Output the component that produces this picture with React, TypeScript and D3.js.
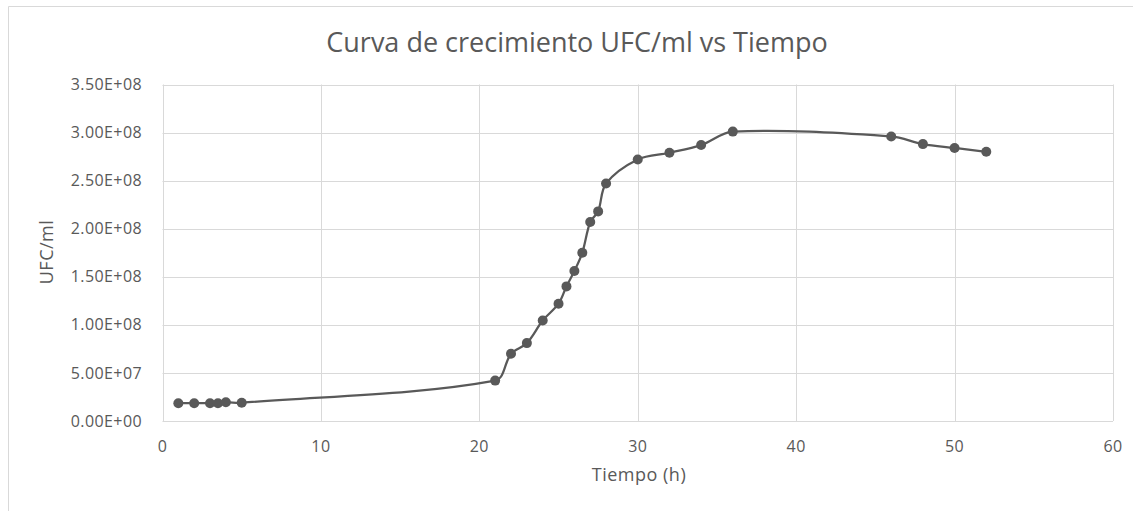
import React from "react";
import * as d3 from "d3";

const tiempo = [1, 2, 3, 3.5, 4, 5, 21, 22, 23, 24, 25, 25.5, 26, 26.5, 27, 27.5, 28, 30, 32, 34, 36, 46, 48, 50, 52];
const ufc = [1.85e7, 1.85e7, 1.85e7, 1.85e7, 1.95e7, 1.9e7, 4.2e7, 7.0e7, 8.1e7, 1.045e8, 1.22e8, 1.4e8, 1.56e8, 1.75e8, 2.07e8, 2.18e8, 2.47e8, 2.72e8, 2.79e8, 2.87e8, 3.01e8, 2.96e8, 2.88e8, 2.84e8, 2.8e8];
const xTicks = [0, 10, 20, 30, 40, 50, 60];
const yTicks = [0, 5e7, 1e8, 1.5e8, 2e8, 2.5e8, 3e8, 3.5e8];

const W = 1143;
const H = 511;
const FONT = "'Open Sans', sans-serif";
const TXT = "#595959";
const GRID = "#d9d9d9";

// Excel-like smoothed line: chord-length weighted Bezier tangents
function smoothPath(p: [number, number][]): string {
  const path = d3.path();
  const n = p.length;
  if (!n) return "";
  path.moveTo(p[0][0], p[0][1]);
  const dist = (a: [number, number], b: [number, number]) => Math.hypot(b[0] - a[0], b[1] - a[1]);
  for (let i = 0; i < n - 1; i++) {
    const p0 = p[Math.max(0, i - 1)];
    const p1 = p[i];
    const p2 = p[i + 1];
    const p3 = p[Math.min(n - 1, i + 2)];
    const d01 = dist(p0, p1);
    const d12 = dist(p1, p2);
    const d23 = dist(p2, p3);
    const f1 = d01 + d12 > 0 ? d12 / (d01 + d12) / 3 : 0;
    const f2 = d12 + d23 > 0 ? d12 / (d12 + d23) / 3 : 0;
    const c1x = p1[0] + (p2[0] - p0[0]) * f1;
    const c1y = p1[1] + (p2[1] - p0[1]) * f1;
    const c2x = p2[0] - (p3[0] - p1[0]) * f2;
    const c2y = p2[1] - (p3[1] - p1[1]) * f2;
    path.bezierCurveTo(c1x, c1y, c2x, c2y, p2[0], p2[1]);
  }
  return path.toString();
}

export default function App() {
  const x = d3.scaleLinear().domain([0, 60]).range([162.5, 1113]);
  const y = d3.scaleLinear().domain([0, 3.5e8]).range([421, 84.5]);
  const pts: [number, number][] = tiempo.map((t, i) => [t, ufc[i]]);
  const px: [number, number][] = pts.map((d) => [x(d[0]), y(d[1])]);
  const fmt = (v: number) => {
    const s = v.toExponential(2).toUpperCase();
    const [m, e] = s.split("E");
    const sign = e.startsWith("-") ? "-" : "+";
    const n = Math.abs(parseInt(e, 10));
    return `${m}E${sign}${n < 10 ? "0" + n : n}`;
  };
  return (
    <svg width={W} height={H} style={{ position: "absolute", left: 0, top: 0, background: "#fff" }}>
      <rect x={0} y={0} width={W} height={H} fill="#fff" />
      <line x1={8.5} x2={1133} y1={6.5} y2={6.5} stroke={GRID} strokeWidth={1} />
      <line x1={8.5} x2={8.5} y1={6.5} y2={H} stroke={GRID} strokeWidth={1} />
      <text x={577} y={52} textAnchor="middle" fontFamily={FONT} fontSize={27} fill={TXT}>
        Curva de crecimiento UFC/ml vs Tiempo
      </text>
      {yTicks.map((v) => (
        <g key={"y" + v}>
          <line x1={x(0)} x2={x(60)} y1={Math.round(y(v)) + 0.5} y2={Math.round(y(v)) + 0.5} stroke={GRID} strokeWidth={1} />
          <text x={142} y={y(v)} dy="0.35em" textAnchor="end" fontFamily={FONT} fontSize={16} letterSpacing={0.4} fill={TXT}>
            {fmt(v)}
          </text>
        </g>
      ))}
      {xTicks.map((v) => (
        <g key={"x" + v}>
          <line x1={Math.round(x(v)) + 0.5} x2={Math.round(x(v)) + 0.5} y1={y(3.5e8)} y2={y(0)} stroke={GRID} strokeWidth={1} />
          <text x={x(v)} y={446} dy="0.35em" textAnchor="middle" fontFamily={FONT} fontSize={16} letterSpacing={0.4} fill={TXT}>
            {v}
          </text>
        </g>
      ))}
      <text x={639} y={475} dy="0.35em" textAnchor="middle" fontFamily={FONT} fontSize={18} letterSpacing={0.5} fill={TXT}>
        Tiempo (h)
      </text>
      <text transform={`translate(47,252) rotate(-90)`} dy="0.35em" textAnchor="middle" fontFamily={FONT} fontSize={18} letterSpacing={0.5} fill={TXT}>
        UFC/ml
      </text>
      <path d={smoothPath(px)} fill="none" stroke="#595959" strokeWidth={2.25} />
      {px.map((d, i) => (
        <circle key={i} cx={d[0]} cy={d[1]} r={5} fill="#595959" />
      ))}
    </svg>
  );
}
